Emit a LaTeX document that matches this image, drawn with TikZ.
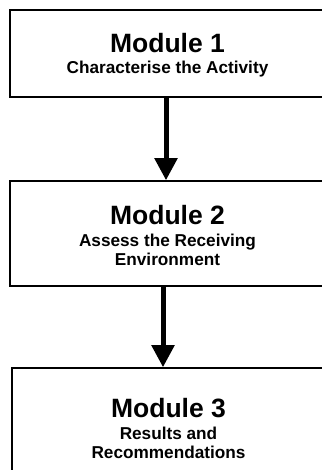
\documentclass[tikz,border=0pt]{standalone}
\usepackage{fontspec}
\setmainfont{Liberation Sans}
\usetikzlibrary{arrows.meta}
\tikzset{
  modnode/.style = {align=center, inner sep=0pt, text centered, draw=black, line width=1.5pt, fill=white,
                    font=\fontsize{17.2}{19}\selectfont\bfseries},
  mod_a/.style = {modnode, minimum width=315pt, minimum height=87pt},
  mod_b/.style = {modnode, minimum width=315pt, minimum height=105pt},
  mod_c/.style = {modnode, minimum width=313pt, minimum height=118pt},
  flow/.style = {line width=5pt, -{Triangle[width=22pt,length=22pt]}},
}
\newcommand{\modtitle}[1]{\raisebox{0pt}[23pt][0pt]{\fontsize{26.5}{26.5}\selectfont #1}}

\begin{document}
\begin{tikzpicture}[x=1pt, y=1pt]
  \useasboundingbox (0,0) rectangle (321,470);
  \node [mod_a] (m1) at (167.5,416.5) {\modtitle{Module 1}\\[2pt] Characterise the Activity};
  \node [mod_b] (m2) at (167.5,236.5) {\modtitle{Module 2}\\[3pt] Assess the Receiving\\ Environment};
  \node [mod_c] (m3) at (168.5,43) {\modtitle{Module 3}\\[3pt] Results and\\ Recommendations};
  \draw [flow] ([xshift=-1.5pt]m1.south) -- ([xshift=-1.5pt]m2.north);
  \draw [flow] ([xshift=-4.5pt]m2.south) -- ([xshift=-5.5pt]m3.north);
\end{tikzpicture}
\end{document}
